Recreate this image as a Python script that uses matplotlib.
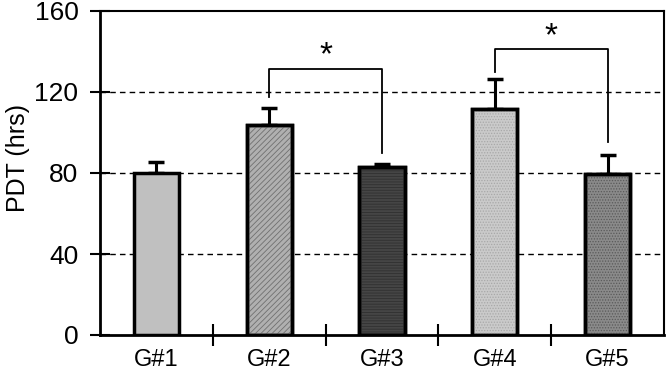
import matplotlib
matplotlib.use("Agg")
import matplotlib.pyplot as plt
import numpy as np

categories = ["G#1", "G#2", "G#3", "G#4", "G#5"]
values = [80, 103.5, 83, 111.5, 79.5]
errors = [5.5, 8.5, 1.5, 15, 9.5]
face_colors = ["#c0c0c0", "#b0b0b0", "#454545", "#cacaca", "#8a8a8a"]
hatch_colors = ["#c0c0c0", "#707070", "#303030", "#a8a8a8", "#5a5a5a"]
hatches = [None, "//////", "------", "......", "......"]
y_ticks = [0, 40, 80, 120, 160]
# significance brackets: (left idx, right idx, top y, left leg end, right leg end)
brackets = [(1, 2, 131.5, 117.5, 90), (3, 4, 141, 130, 95.5)]

plt.rcParams['font.family'] = ['Liberation Sans', 'DejaVu Sans']
plt.rcParams['hatch.linewidth'] = 0.6

fig = plt.figure(figsize=(6.67, 3.70), dpi=100)
ax = fig.add_axes([100/667, 1-335/370, 564/667, 324/370])

x = np.arange(len(categories))
for i in range(len(categories)):
    ax.bar(x[i], values[i], width=0.4, color=face_colors[i], edgecolor="black",
           linewidth=2.5, zorder=3)
    if hatches[i]:
        ax.bar(x[i], values[i], width=0.4, color="none", edgecolor=hatch_colors[i],
               hatch=hatches[i], linewidth=0, zorder=3.5)
        ax.bar(x[i], values[i], width=0.4, color="none", edgecolor="black",
               linewidth=2.5, zorder=3.6)
    ax.errorbar(x[i], values[i], yerr=[[0], [errors[i]]], fmt="none", ecolor="black",
                elinewidth=2.2, capsize=6, capthick=2.5, zorder=2)

for l, r, top, le, re in brackets:
    ax.plot([x[l], x[l], x[r], x[r]], [le, top, top, re], color="black", lw=1.3, zorder=4)
    ax.text((x[l] + x[r]) / 2, top + 6.5, "*", ha="center", va="center", fontsize=24)

ax.set_xlim(-0.5, 4.5)
ax.set_ylim(0, 160)
ax.set_yticks(y_ticks)
ax.tick_params(axis="y", direction="inout", length=15, width=1.5, labelsize=19, pad=8)
for yv in y_ticks[1:-1]:
    ax.axhline(yv, color="black", lw=1.0, ls=(0, (4, 3)), zorder=1)

ax.set_xticks(x[:-1] + 0.5)
ax.set_xticklabels([])
ax.set_xticks(x, minor=True)
ax.set_xticklabels(categories, minor=True)
ax.tick_params(axis="x", which="major", direction="inout", length=16, width=1.5)
ax.tick_params(axis="x", which="minor", length=0, labelsize=17, pad=10)

ax.set_ylabel("PDT (hrs)", fontsize=18)
ax.yaxis.set_label_coords(-0.124, 0.546)

ax.spines["left"].set_linewidth(2)
ax.spines["bottom"].set_linewidth(2)
ax.spines["top"].set_linewidth(1.5)
ax.spines["right"].set_linewidth(1.5)

fig.savefig("out.png", dpi=100)
